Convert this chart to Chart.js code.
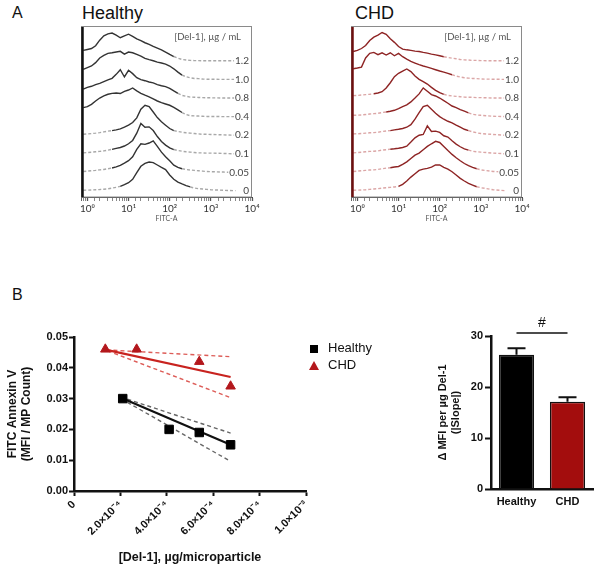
<!DOCTYPE html>
<html lang="en">
<head>
<meta charset="utf-8">
<title>Del-1 and microparticle Annexin V binding</title>
<script src="https://cdn.jsdelivr.net/npm/chart.js@4.4.1/dist/chart.umd.min.js"></script>
<style>
  body { margin: 0; background: #fff; font-family: "Liberation Sans", Arial, sans-serif; }
  #page { position: relative; width: 601px; height: 570px; overflow: hidden; }
  .box { position: absolute; }
  .txt { position: absolute; white-space: nowrap; line-height: 1; color: #111; }
</style>
</head>
<body>
<div id="page">
  <div class="txt" style="left:12px;top:5px;font-size:16px">A</div>
  <div class="txt" style="left:82px;top:4px;font-size:18px">Healthy</div>
  <div class="txt" style="left:355px;top:4px;font-size:18px">CHD</div>
  <div class="txt" style="left:12px;top:287px;font-size:16px">B</div>

  <div class="box" style="left:60px;top:20px;width:210px;height:214px"><canvas id="histHealthy"></canvas></div>
  <div class="box" style="left:330px;top:20px;width:210px;height:214px"><canvas id="histCHD"></canvas></div>
  <div class="box" style="left:0;top:300px;width:410px;height:270px"><canvas id="slopePlot"></canvas></div>
  <div class="box" style="left:400px;top:300px;width:201px;height:230px"><canvas id="slopeBars"></canvas></div>

  <!-- legend of the regression panel -->
  <div class="box" style="left:310px;top:345px;width:8px;height:8px;background:#000"></div>
  <div class="txt" style="left:328px;top:341px;font-size:13px">Healthy</div>
  <div class="box" style="left:309px;top:361px;width:0;height:0;border-left:5px solid transparent;border-right:5px solid transparent;border-bottom:9px solid #b3171c"></div>
  <div class="txt" style="left:328px;top:358px;font-size:13px">CHD</div>
</div>
<script>
    // ---- panel A: offset histograms (log10 FITC-A grid, heights in counts) ----
    const logGrid = [-0.1, 0, 0.1, 0.2, 0.3, 0.4, 0.5, 0.6, 0.7, 0.8, 0.9, 1.0, 1.1, 1.2, 1.3, 1.4,
                     1.5, 1.6, 1.7, 1.8, 1.9, 2.0, 2.1, 2.2, 2.3, 2.4, 2.5, 2.6, 2.7, 2.8, 2.9, 3.0, 3.3, 3.6];
    const concLabels = ['0', '0.05', '0.1', '0.2', '0.4', '0.8', '1.0', '1.2'];
    const decadeTicks = ['10⁰', '10¹', '10²', '10³', '10⁴'];
    const unitLabel = '[Del-1], µg / mL';

    const healthyHist = [
        [4, 5, 6, 7, 8, 10, 12, 16, 20, 25, 34, 45, 63, 99, 133, 149, 156, 153, 140, 127, 115, 86, 63, 48, 38, 29, 22, 16, 13, 11, 9, 7, 4, 2],
        [5, 7, 9, 11, 14, 16, 20, 24, 30, 38, 50, 63, 84, 124, 154, 151, 158, 170, 140, 109, 84, 63, 39, 27, 20, 16, 13, 11, 9, 7, 5, 4, 2, 0],
        [5, 7, 9, 11, 13, 16, 20, 24, 29, 34, 42, 54, 72, 111, 163, 143, 145, 125, 93, 66, 47, 32, 23, 18, 14, 11, 9, 7, 5, 5, 4, 4, 2, 0],
        [5, 7, 9, 11, 14, 18, 22, 25, 29, 34, 43, 54, 68, 93, 140, 161, 154, 125, 95, 72, 54, 36, 25, 20, 16, 13, 11, 9, 7, 5, 5, 4, 2, 0],
        [48, 54, 66, 84, 100, 111, 120, 125, 127, 124, 136, 143, 154, 138, 125, 115, 106, 95, 84, 75, 68, 61, 50, 36, 22, 11, 5, 4, 3, 2, 1, 1, 0, 0],
        [48, 57, 63, 72, 79, 88, 97, 106, 127, 152, 113, 149, 131, 109, 99, 93, 86, 81, 72, 66, 61, 52, 38, 25, 14, 9, 5, 4, 3, 2, 1, 1, 0, 0],
        [54, 63, 72, 90, 115, 129, 140, 143, 147, 151, 136, 147, 143, 134, 125, 113, 106, 100, 93, 88, 82, 72, 57, 39, 23, 14, 9, 5, 4, 2, 1, 1, 0, 0],
        [56, 61, 66, 81, 111, 134, 145, 149, 138, 124, 134, 143, 131, 118, 108, 97, 88, 77, 68, 59, 47, 34, 23, 14, 7, 4, 2, 1, 1, 0, 0, 0, 0, 0]
    ];
    const chdHist = [
        [4, 5, 6, 7, 9, 11, 13, 16, 18, 20, 22, 25, 36, 54, 75, 93, 111, 118, 122, 129, 140, 140, 127, 118, 104, 86, 68, 54, 41, 32, 23, 18, 7, 2],
        [5, 7, 9, 11, 13, 14, 16, 20, 23, 25, 29, 32, 43, 57, 75, 93, 104, 122, 140, 154, 167, 161, 140, 118, 97, 79, 63, 48, 36, 27, 20, 14, 5, 2],
        [5, 7, 9, 11, 13, 14, 16, 20, 22, 25, 27, 30, 34, 41, 63, 86, 100, 104, 150, 120, 122, 115, 97, 90, 70, 52, 38, 27, 20, 14, 11, 9, 4, 0],
        [7, 8, 9, 11, 13, 14, 16, 20, 23, 25, 29, 32, 36, 43, 57, 86, 122, 154, 161, 140, 118, 100, 86, 75, 66, 54, 43, 32, 25, 18, 13, 9, 4, 0],
        [7, 8, 9, 11, 14, 16, 18, 22, 25, 29, 34, 43, 54, 63, 79, 100, 122, 154, 136, 118, 111, 100, 86, 72, 57, 48, 38, 29, 20, 13, 9, 7, 2, 0],
        [13, 14, 16, 18, 20, 23, 27, 34, 54, 82, 115, 133, 145, 156, 142, 118, 100, 88, 75, 57, 41, 29, 20, 14, 11, 9, 7, 5, 4, 4, 2, 2, 0, 0],
        [57, 61, 66, 115, 140, 145, 133, 143, 131, 143, 127, 140, 122, 109, 97, 88, 79, 72, 66, 59, 52, 45, 39, 32, 25, 18, 13, 9, 7, 5, 4, 2, 1, 0],
        [50, 56, 66, 82, 109, 127, 138, 152, 142, 118, 99, 77, 63, 59, 56, 52, 50, 45, 41, 36, 32, 27, 22, 18, 14, 11, 7, 5, 4, 2, 2, 1, 0, 0]
    ];

    // ---- panel B left: Annexin V vs Del-1 per microparticle ----
    const doseHealthy = [2.1e-4, 4.1e-4, 5.4e-4, 6.75e-4];
    const mfiHealthy = [0.030, 0.020, 0.019, 0.015];
    const doseCHD = [1.35e-4, 2.7e-4, 5.4e-4, 6.75e-4];
    const mfiCHD = [0.046, 0.046, 0.042, 0.034];

    const fitHealthyX = [2.1e-4, 6.75e-4], fitHealthyY = [0.030, 0.0150];
    const ciHealthyHiX = [2.3e-4, 6.75e-4], ciHealthyHiY = [0.0298, 0.0188];
    const ciHealthyLoX = [2.3e-4, 6.75e-4], ciHealthyLoY = [0.0288, 0.0096];
    const fitCHDX = [1.4e-4, 6.75e-4], fitCHDY = [0.0458, 0.0370];
    const ciCHDHiX = [1.4e-4, 6.75e-4], ciCHDHiY = [0.0458, 0.0436];
    const ciCHDLoX = [1.45e-4, 6.75e-4], ciCHDLoY = [0.0455, 0.0303];

    const doseTickLabels = ['0', '2.0×10⁻⁴', '4.0×10⁻⁴', '6.0×10⁻⁴', '8.0×10⁻⁴', '1.0×10⁻³'];

    // ---- panel B right: |slope| bars ----
    const groups = ['Healthy', 'CHD'];
    const slopeMean = [26.3, 17.1];
    const slopeSem = [1.3, 0.9];
    const sigLevel = 30.6;
    const sigMark = '#';

    const ROW = 100;   // vertical offset between stacked histograms
    const RED = '#b3171c';

    Chart.defaults.font.family = '"Liberation Sans", Arial, sans-serif';
    Chart.defaults.color = '#111';

    function isDecade(v) {
        const e = Math.log10(v);
        return Math.abs(e - Math.round(e)) < 1e-6;
    }

    const histDecor = {
        id: 'histDecor',
        afterDraw(chart, args, opts) {
            const {ctx, chartArea: a, scales: {y}} = chart;
            ctx.save();
            ctx.strokeStyle = '#8a8a8a';
            ctx.lineWidth = 1;
            ctx.strokeRect(a.left + 0.5, a.top + 0.5, a.width - 1, a.height - 0.5);
            ctx.strokeStyle = opts.edgeColor;
            ctx.lineWidth = 2.5;
            ctx.beginPath();
            ctx.moveTo(a.left + 1.5, a.top + 1);
            ctx.lineTo(a.left + 1.5, a.bottom);
            ctx.stroke();

            ctx.font = '10px Lato';
            ctx.textAlign = 'right';
            ctx.textBaseline = 'middle';
            concLabels.forEach((t, i) => {
                const yy = y.getPixelForValue(i * ROW);
                const w = ctx.measureText(t).width;
                ctx.fillStyle = '#fff';
                ctx.fillRect(a.right - 4 - w, yy - 5, w + 1, 10);
                ctx.fillStyle = '#444';
                ctx.fillText(t, a.right - 3, yy);
            });
            ctx.font = '9.5px Lato';
            ctx.fillStyle = '#555';
            ctx.fillText(unitLabel, a.right - 11, a.top + 11);
            ctx.restore();
        }
    };

    function histChart(id, rows, lineColor, tailColor, edgeColor) {
        const datasets = rows.map((h, i) => {
            const tail = c => (c.p0.parsed.y - i * ROW) < 26 && (c.p1.parsed.y - i * ROW) < 26;
            return {
                data: h.map((v, k) => ({x: Math.pow(10, logGrid[k]), y: v + i * ROW})),
                borderColor: lineColor,
                borderWidth: 1.4,
                pointRadius: 0,
                tension: 0,
                segment: {
                    borderColor: c => tail(c) ? tailColor : undefined,
                    borderDash: c => tail(c) ? [3, 2] : undefined
                }
            };
        });

        return new Chart(document.getElementById(id), {
            type: 'line',
            data: { datasets },
            options: {
                responsive: true,
                maintainAspectRatio: false,
                animation: false,
                layout: { padding: { top: 6, right: 18, left: 0, bottom: 0 } },
                plugins: {
                    legend: { display: false },
                    tooltip: { enabled: false },
                    histDecor: { edgeColor }
                },
                scales: {
                    x: {
                        type: 'logarithmic',
                        min: Math.pow(10, -0.15),
                        max: 1e4,
                        afterFit: s => { s.height = 37; },
                        border: { display: true, color: '#444', width: 1 },
                        grid: {
                            drawOnChartArea: false,
                            tickLength: 4,
                            tickColor: '#555',
                            tickWidth: c => isDecade(c.tick.value) ? 1.3 : 0.7
                        },
                        ticks: {
                            autoSkip: false,
                            maxRotation: 0,
                            padding: 2,
                            color: '#333',
                            font: { family: 'Lato', size: 10 },
                            callback: v => isDecade(v) && Math.round(Math.log10(v)) >= 0 ? decadeTicks[Math.round(Math.log10(v))] : ''
                        },
                        title: {
                            display: true,
                            text: 'FITC-A',
                            color: '#555',
                            font: { family: 'Lato', size: 7 },
                            padding: { top: 0, bottom: 11 }
                        }
                    },
                    y: {
                        min: -32,
                        max: 887,
                        afterFit: s => { s.width = 21; },
                        ticks: { display: false },
                        grid: { display: false },
                        border: { display: false }
                    }
                }
            },
            plugins: [histDecor]
        });
    }

    histChart('histHealthy', healthyHist, '#333', '#a8a8a8', '#111');
    histChart('histCHD', chdHist, '#8e2424', '#dba6a6', '#6e0f0f');

    const pts = (xs, ys) => xs.map((x, i) => ({x, y: ys[i]}));
    const lineSet = (xs, ys, color, width, dash) => ({
        data: pts(xs, ys), showLine: true, borderColor: color, borderWidth: width,
        borderDash: dash, pointRadius: 0, fill: false
    });

    new Chart(document.getElementById('slopePlot'), {
        type: 'scatter',
        data: {
            datasets: [
                { label: 'Healthy', data: pts(doseHealthy, mfiHealthy), pointStyle: 'rect', pointRadius: 6,
                  backgroundColor: '#000', borderColor: '#000' },
                { label: 'CHD', data: pts(doseCHD, mfiCHD), pointStyle: 'triangle', pointRadius: 5.5,
                  backgroundColor: RED, borderColor: RED },
                lineSet(fitHealthyX, fitHealthyY, '#111', 2.2, []),
                lineSet(fitCHDX, fitCHDY, '#c8231f', 2.2, []),
                lineSet(ciHealthyHiX, ciHealthyHiY, '#666', 1.4, [4, 3]),
                lineSet(ciHealthyLoX, ciHealthyLoY, '#666', 1.4, [4, 3]),
                lineSet(ciCHDHiX, ciCHDHiY, '#dd5c57', 1.4, [4, 3]),
                lineSet(ciCHDLoX, ciCHDLoY, '#dd5c57', 1.4, [4, 3])
            ]
        },
        options: {
            responsive: true,
            maintainAspectRatio: false,
            animation: false,
            layout: { padding: { top: 37, right: 104, left: 0, bottom: 0 } },
            plugins: { legend: { display: false }, tooltip: { enabled: false } },
            scales: {
                x: {
                    min: 0,
                    max: 0.001,
                    afterFit: s => { s.height = 79; },
                    border: { color: '#111', width: 2.5 },
                    grid: { drawOnChartArea: false, tickLength: 5, tickWidth: 2, tickColor: '#111' },
                    ticks: {
                        stepSize: 0.0002,
                        minRotation: 45,
                        maxRotation: 45,
                        padding: 2,
                        font: { size: 11, weight: 'bold' },
                        callback: (v, i) => doseTickLabels[i]
                    },
                    title: {
                        display: true,
                        text: '[Del-1], µg/microparticle',
                        font: { size: 12.5, weight: 'bold' },
                        padding: { top: 0, bottom: 5 }
                    }
                },
                y: {
                    min: 0,
                    max: 0.05,
                    afterFit: s => { s.width = 74; },
                    border: { color: '#111', width: 2.5 },
                    grid: { drawOnChartArea: false, tickLength: 5, tickWidth: 2, tickColor: '#111' },
                    ticks: {
                        stepSize: 0.01,
                        padding: 1,
                        font: { size: 11, weight: 'bold' },
                        callback: v => v.toFixed(2)
                    },
                    title: {
                        display: true,
                        text: ['FITC Annexin V', '(MFI / MP Count)'],
                        font: { size: 12, weight: 'bold' },
                        padding: { top: 5, bottom: 0 }
                    }
                }
            }
        }
    });

    const barMarks = {
        id: 'barMarks',
        afterDatasetsDraw(chart) {
            const {ctx, scales: {y}} = chart;
            const bars = chart.getDatasetMeta(0).data;
            ctx.save();
            ctx.strokeStyle = '#111';
            ctx.lineWidth = 2;
            bars.forEach((b, i) => {
                const top = y.getPixelForValue(slopeMean[i] + slopeSem[i]);
                ctx.beginPath();
                ctx.moveTo(b.x, b.y);
                ctx.lineTo(b.x, top);
                ctx.moveTo(b.x - 9, top);
                ctx.lineTo(b.x + 9, top);
                ctx.stroke();
            });
            const sy = y.getPixelForValue(sigLevel);
            ctx.lineWidth = 1.5;
            ctx.beginPath();
            ctx.moveTo(bars[0].x, sy);
            ctx.lineTo(bars[1].x, sy);
            ctx.stroke();
            ctx.fillStyle = '#111';
            ctx.font = '14px "Liberation Sans"';
            ctx.textAlign = 'center';
            ctx.textBaseline = 'alphabetic';
            ctx.fillText(sigMark, (bars[0].x + bars[1].x) / 2, sy - 6);
            ctx.restore();
        }
    };

    new Chart(document.getElementById('slopeBars'), {
        type: 'bar',
        data: {
            labels: groups,
            datasets: [{
                data: slopeMean,
                backgroundColor: ['#000', '#a30d0d'],
                borderColor: '#111',
                borderWidth: 1.5,
                barPercentage: 0.69,
                categoryPercentage: 1
            }]
        },
        options: {
            responsive: true,
            maintainAspectRatio: false,
            animation: false,
            layout: { padding: { top: 36, right: 8, left: 0, bottom: 0 } },
            plugins: { legend: { display: false }, tooltip: { enabled: false } },
            scales: {
                x: {
                    afterFit: s => { s.height = 41; },
                    border: { color: '#111', width: 2.5 },
                    grid: { display: false, drawTicks: false },
                    ticks: { padding: 6, font: { size: 11, weight: 'bold' } }
                },
                y: {
                    min: 0,
                    max: 30,
                    afterFit: s => { s.width = 91; },
                    border: { color: '#111', width: 2.5 },
                    grid: { drawOnChartArea: false, tickLength: 6, tickWidth: 2, tickColor: '#111' },
                    ticks: { stepSize: 10, padding: 2, font: { size: 11, weight: 'bold' } },
                    title: {
                        display: true,
                        text: ['Δ MFI per µg Del-1', '(|Slope|)'],
                        font: { size: 11, weight: 'bold' },
                        padding: { top: 36, bottom: 0 }
                    }
                }
            }
        },
        plugins: [barMarks]
    });
</script>
</body>
</html>
